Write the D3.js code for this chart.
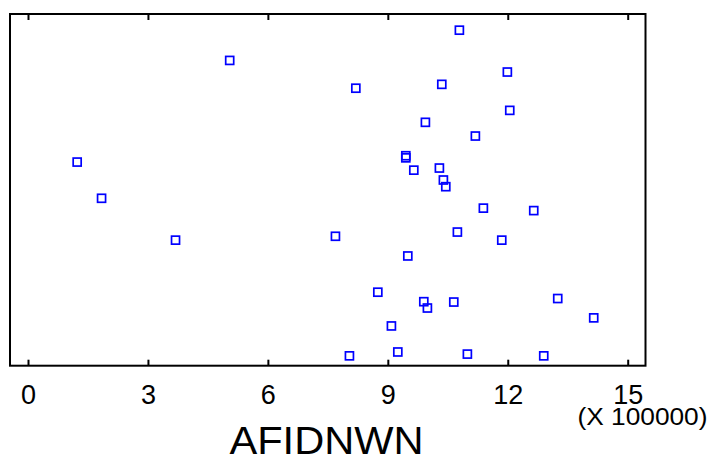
<!DOCTYPE html>
<html>
<head>
<meta charset="utf-8">
<script src="https://cdn.jsdelivr.net/npm/d3@7"></script>
<style>
  html, body { margin: 0; padding: 0; background: #fff; }
  svg { display: block; font-family: Arial, "Liberation Sans", sans-serif; }
</style>
</head>
<body>
<svg id="chart" width="715" height="456"></svg>
<script>
// AFIDNWN values in units of 100000
const afidnwn = [10.79, 5.045, 11.99, 8.20, 10.35, 12.05, 9.94, 11.19, 1.23, 9.45, 9.45,
  9.65, 10.29, 10.39, 10.45, 1.84, 11.39, 12.65, 10.74, 3.69, 7.69, 11.85, 9.50,
  8.75, 9.90, 9.99, 10.65, 13.25, 9.09, 14.15, 8.04, 9.25, 10.99, 12.90];
// vertical jitter position (no axis shown), 0..1
const jitter = [0.954, 0.868, 0.835, 0.789, 0.800, 0.726, 0.692, 0.653, 0.579, 0.597, 0.591,
  0.556, 0.562, 0.528, 0.509, 0.476, 0.448, 0.441, 0.380, 0.357, 0.368, 0.357, 0.312,
  0.209, 0.182, 0.164, 0.181, 0.191, 0.113, 0.136, 0.028, 0.039, 0.033, 0.028];
const xTicks = [0, 3, 6, 9, 12, 15];
const xLabel = "AFIDNWN";
const scaleNote = "(X 100000)";

const svg = d3.select("#chart");
const frame = { left: 10, top: 14, right: 645.5, bottom: 365.7 };

const x = d3.scaleLinear().domain([0, 15]).range([28, 627.7]);
const y = d3.scaleLinear().domain([0, 1]).range([frame.bottom, frame.top]);

// frame
svg.append("rect")
  .attr("x", frame.left).attr("y", frame.top)
  .attr("width", frame.right - frame.left)
  .attr("height", frame.bottom - frame.top)
  .attr("fill", "none").attr("stroke", "#000").attr("stroke-width", 2);

// bottom axis (ticks inward)
const bottomAxis = d3.axisBottom(x).tickValues(xTicks).tickSizeInner(-6).tickSizeOuter(0)
  .tickFormat(d3.format("d")).tickPadding(18);
const gb = svg.append("g").attr("transform", `translate(0,${frame.bottom})`).call(bottomAxis);
gb.select(".domain").remove();
gb.selectAll(".tick line").attr("stroke", "#000").attr("stroke-width", 2);
gb.selectAll(".tick text").attr("font-size", 27).attr("fill", "#000")
  .attr("font-family", "Arial, 'Liberation Sans', sans-serif")
  .attr("dy", null).attr("y", 38.3);

// top axis ticks (inward)
const topAxis = d3.axisTop(x).tickValues(xTicks).tickSizeInner(-6).tickSizeOuter(0).tickFormat("");
const gt = svg.append("g").attr("transform", `translate(0,${frame.top})`).call(topAxis);
gt.select(".domain").remove();
gt.selectAll(".tick line").attr("stroke", "#000").attr("stroke-width", 2);

// points
svg.append("g").selectAll("rect.pt")
  .data(afidnwn.map((v, i) => [v, jitter[i]]))
  .join("rect")
  .attr("class", "pt")
  .attr("x", d => x(d[0]) - 4).attr("y", d => y(d[1]) - 4)
  .attr("width", 8).attr("height", 8)
  .attr("fill", "none").attr("stroke", "#0000ff").attr("stroke-width", 1.7);

// scale note
svg.append("text").attr("x", 577.5).attr("y", 425).attr("text-anchor", "start")
  .attr("font-size", 23).attr("fill", "#000")
  .attr("textLength", 130).attr("lengthAdjust", "spacingAndGlyphs")
  .text(scaleNote);

// axis title
svg.append("text").attr("x", 229.5).attr("y", 453.5).attr("text-anchor", "start")
  .attr("font-size", 38.5).attr("fill", "#000")
  .attr("textLength", 194).attr("lengthAdjust", "spacingAndGlyphs")
  .text(xLabel);
</script>
</body>
</html>
